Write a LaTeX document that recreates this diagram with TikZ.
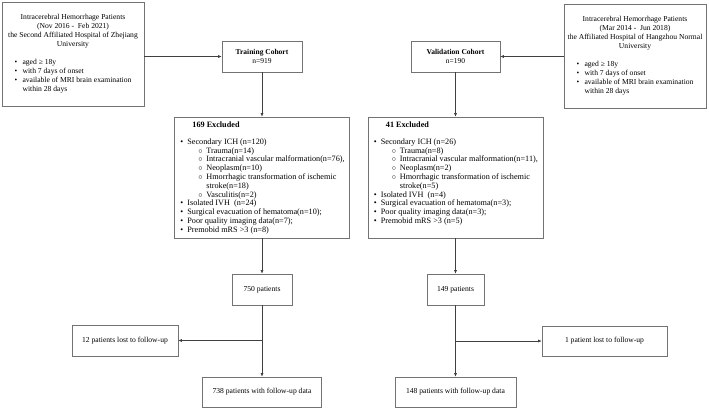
\documentclass[tikz,border=0pt]{standalone}
\usepackage{fontspec}
\setmainfont{Liberation Serif}
\usetikzlibrary{positioning,arrows.meta}

\newcommand{\subpt}[1]{\hspace*{11pt}\makebox[8pt][l]{$\circ$}#1}
\newcommand{\subcont}[1]{\hspace*{19pt}#1}

\begin{document}
\begin{tikzpicture}[x=1pt, y=-1pt,
        box/.style={draw=black!55, line width=0.6pt, inner sep=0pt, align=center, font=\fontsize{7.6}{9}\selectfont},
        src/.style={box, minimum width=142pt, minimum height=104pt},
        cohort/.style={box, minimum height=31pt, font=\fontsize{7.5}{9.5}\selectfont},
        excl/.style={draw=black!55, line width=0.6pt, minimum width=175pt, minimum height=121pt, inner sep=0pt},
        exlist/.style={inner sep=0pt, anchor=north west, font=\fontsize{8.2}{8.8}\selectfont},
        arr/.style={draw=black!75, line width=0.6pt, -{Latex[length=3.5pt,width=3pt]}}
    ]
    \useasboundingbox (0,0) rectangle (709,408);

    \node[src]    (src1)  at (73,54)      {Intracerebral Hemorrhage Patients\\(Nov 2016 -\ \ Feb 2021)\\the Second Affiliated Hospital of Zhejiang\\University\\[9pt]
        \begin{tabular}{@{}p{8pt}@{}l@{}}\textbullet & aged ≥ 18y\\ \textbullet & with 7 days of onset\\ \textbullet & available of MRI brain examination\\ & within 28 days\end{tabular}};
    \node[src]    (src2)  at (635,56)     {Intracerebral Hemorrhage Patients\\(Mar 2014 -\ \ Jun 2018)\\the Affiliated Hospital of Hangzhou Normal\\University\\[9pt]
        \begin{tabular}{@{}p{8pt}@{}l@{}}\textbullet & aged ≥ 18y\\ \textbullet & with 7 days of onset\\ \textbullet & available of MRI brain examination\\ & within 28 days\end{tabular}};

    \node[cohort, minimum width=80pt] (train) at (262,56.5)   {\textbf{Training Cohort}\\n=919};
    \node[cohort, minimum width=89pt] (valid) at (455.5,56.5) {\textbf{Validation Cohort}\\n=190};

    \node[excl]   (excl1) at (262,177.5)   {};
    \node[excl]   (excl2) at (455.5,177.5) {};
    \node[exlist] (list1) at ([xshift=6pt,yshift=-4.8pt]excl1.north west)
        {\begin{tabular}{@{}p{7pt}@{}l@{}}
        \multicolumn{2}{@{\hspace{12pt}}l@{}}{\textbf{169 Excluded}}\\[7.7pt]
        \textbullet & Secondary ICH (n=120)\\
        & \subpt{Trauma(n=14)}\\
        & \subpt{Intracranial vascular malformation(n=76),}\\
        & \subpt{Neoplasm(n=10)}\\
        & \subpt{Hmorrhagic transformation of ischemic}\\
        & \subcont{stroke(n=18)}\\
        & \subpt{Vasculitis(n=2)}\\
        \textbullet & Isolated IVH\ \ (n=24)\\
        \textbullet & Surgical evacuation of hematoma(n=10);\\
        \textbullet & Poor quality imaging data(n=7);\\
        \textbullet & Premobid mRS >3 (n=8)
        \end{tabular}};
    \node[exlist] (list2) at ([xshift=6pt,yshift=-4.8pt]excl2.north west)
        {\begin{tabular}{@{}p{7pt}@{}l@{}}
        \multicolumn{2}{@{\hspace{12pt}}l@{}}{\textbf{41 Excluded}}\\[7.7pt]
        \textbullet & Secondary ICH (n=26)\\
        & \subpt{Trauma(n=8)}\\
        & \subpt{Intracranial vascular malformation(n=11),}\\
        & \subpt{Neoplasm(n=2)}\\
        & \subpt{Hmorrhagic transformation of ischemic}\\
        & \subcont{stroke(n=5)}\\
        \textbullet & Isolated IVH\ \ (n=4)\\
        \textbullet & Surgical evacuation of hematoma(n=3);\\
        \textbullet & Poor quality imaging data(n=3);\\
        \textbullet & Premobid mRS >3 (n=5)
        \end{tabular}};

    \node[box, minimum width=60pt, minimum height=31pt]  (p750)   at (262,289.5)   {750 patients};
    \node[box, minimum width=57pt, minimum height=31pt]  (p149)   at (455.5,289.5) {149 patients};
    \node[box, minimum width=106pt, minimum height=31pt] (lost12) at (125,340.5)   {12 patients lost to follow-up};
    \node[box, minimum width=125pt, minimum height=30pt] (lost1)  at (604.5,341)   {1 patient lost to follow-up};
    \node[box, minimum width=119pt, minimum height=30pt] (f738)   at (262,392)     {738 patients with follow-up data};
    \node[box, minimum width=121pt, minimum height=30pt] (f148)   at (455.5,392)   {148 patients with follow-up data};

    \coordinate (br1) at (p750.south |- lost12.east);
    \coordinate (br2) at (p149.south |- lost1.west);

    \draw[arr] (src1.east |- train.west) -- (train.west);
    \draw[arr] (src2.west |- valid.east) -- (valid.east);
    \draw[arr] (train) -- (excl1);
    \draw[arr] (valid) -- (excl2);
    \draw[arr] (excl1) -- (p750);
    \draw[arr] (excl2) -- (p149);
    \draw[arr] (p750) -- (f738);
    \draw[arr] (p149) -- (f148);
    \draw[arr] (br1) -- (lost12);
    \draw[arr] (br2) -- (lost1);
\end{tikzpicture}
\end{document}
